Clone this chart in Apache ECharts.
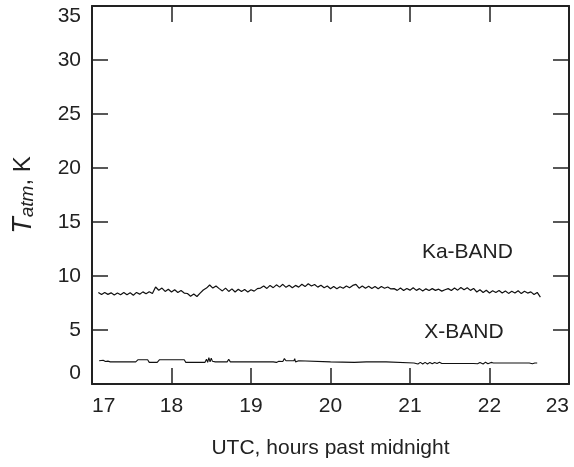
<!DOCTYPE html>
<html>
<head>
<meta charset="utf-8">
<script src="https://cdn.jsdelivr.net/npm/echarts@6/dist/echarts.min.js"></script>
<style>
  html, body { margin: 0; padding: 0; background: #fff; }
  #main { width: 574px; height: 467px; }
</style>
</head>
<body>
<div id="main"></div>
<script>
// x axis ticks (hours UTC) and y axis ticks (K)
var hourTicks = [17, 18, 19, 20, 21, 22, 23];
var tempTicks = [0, 5, 10, 15, 20, 25, 30, 35];

// Ka-band: sampled every 0.04 h starting at 17.08
var kaStart = 17.08, kaStep = 0.04;
var kaValues = [
  8.48, 8.28, 8.47, 8.3, 8.44, 8.25, 8.42, 8.27, 8.48, 8.27, 8.45, 8.22, 8.48, 8.32, 8.53, 8.35, 8.55, 8.38,
  8.98, 8.68, 8.88, 8.57, 8.78, 8.52, 8.73, 8.47, 8.65, 8.42,
  8.38, 8.12, 8.33, 8.1, 8.42,
  8.7, 8.88, 9.17, 8.88, 9.08,
  8.83, 8.62, 8.88, 8.57, 8.81, 8.52, 8.78, 8.57, 8.75, 8.52, 8.73, 8.6, 8.83,
  8.88, 9.08, 8.85, 9.13, 8.92, 9.18, 8.97, 9.23, 8.95, 9.15, 8.92, 9.13, 8.97, 9.23, 9.02, 9.28, 9.07, 9.21, 8.97, 9.15, 8.92, 9.08,
  8.82, 9.03, 8.82, 9.01, 8.87, 9.08, 8.92, 9.13, 9.22,
  8.87, 9.08, 8.87, 9.05, 8.85, 9.03, 8.82, 9.03, 8.87, 8.98, 8.8,
  8.83, 8.67, 8.88, 8.65, 8.85, 8.69, 8.91, 8.67, 8.83, 8.62, 8.81, 8.65, 8.83, 8.67, 8.78, 8.6, 8.73,
  8.83, 8.65, 8.88, 8.69, 8.93, 8.72, 8.91, 8.67, 8.85,
  8.52, 8.73, 8.47, 8.68, 8.42, 8.63, 8.47, 8.65, 8.42, 8.61, 8.39, 8.58, 8.42, 8.63, 8.37, 8.58, 8.42, 8.53,
  8.28, 8.48, 8.05
];

// X-band: flat line with a few blips
var xbTimes = [
  17.09, 17.14, 17.17, 17.2, 17.23, 17.55, 17.58, 17.7, 17.72, 17.82, 17.85, 18.16, 18.18, 18.42,
  18.44, 18.455, 18.47, 18.485, 18.5, 18.515, 18.53, 18.55, 18.7, 18.72, 18.74, 19.28, 19.3, 19.32,
  19.35, 19.4, 19.42, 19.44, 19.54, 19.55, 19.56, 19.6, 20.0, 20.3, 20.45, 20.7, 20.72, 21.05,
  21.1, 21.13, 21.16, 21.19, 21.22, 21.25, 21.28, 21.31, 21.34, 21.37, 21.4, 21.45, 21.8, 21.82,
  21.85, 21.88, 21.92, 21.95, 21.98, 22.02, 22.05, 22.5, 22.54, 22.57, 22.6
];
var xbValues = [
  2.15, 2.2, 2.08, 2.12, 2.05, 2.05, 2.25, 2.25, 2.0, 2.0, 2.25, 2.25, 2.0, 2.0,
  2.3, 2.0, 2.45, 2.05, 2.4, 2.1, 2.15, 2.05, 2.05, 2.3, 2.05, 2.05, 2.2, 2.0,
  2.1, 2.08, 2.35, 2.15, 2.15, 2.35, 2.05, 2.15, 2.05, 2.0, 2.05, 2.05, 1.95, 1.95,
  1.85, 2.0, 1.85, 2.0, 1.85, 2.0, 1.88, 2.0, 1.9, 2.02, 1.9, 1.9, 1.9, 2.0,
  1.88, 2.0, 1.85, 2.02, 1.88, 2.0, 1.95, 1.95, 1.88, 1.95, 1.95
];

// band labels, placed in data units
var bandNames = ['Ka-BAND', 'X-BAND'];
var bandLabelAt = [[21.15, 12.2], [21.18, 4.75]];

var kaData = kaValues.map(function (v, i) { return [kaStart + i * kaStep, v]; });
var xbData = xbTimes.map(function (t, i) { return [t, xbValues[i]]; });

var ink = '#222';
var font = 'Liberation Sans, Arial, Helvetica, sans-serif';

var chart = echarts.init(document.getElementById('main'));

function frameAxis(pos, isX, main) {
  var ax = {
    type: 'value',
    position: pos,
    min: isX ? hourTicks[0] : tempTicks[0],
    max: isX ? hourTicks[hourTicks.length - 1] : tempTicks[tempTicks.length - 1],
    interval: isX ? 1 : 5,
    axisLine: { show: true, onZero: false, lineStyle: { color: ink, width: 2 } },
    axisTick: { show: true, inside: true, length: 16, lineStyle: { color: ink, width: 1.5 } },
    splitLine: { show: false },
    axisLabel: { show: false }
  };
  if (main) {
    ax.axisLabel = {
      show: true, color: ink, fontSize: 21, fontFamily: font,
      margin: isX ? 12 : 11
    };
    if (isX) {
      ax.axisLabel.alignMinLabel = 'left';
      ax.axisLabel.alignMaxLabel = 'right';
    } else {
      ax.axisLabel.verticalAlignMinLabel = 'bottom';
      ax.axisLabel.verticalAlignMaxLabel = 'top';
    }
  }
  return ax;
}

var xMain = frameAxis('bottom', true, true);
xMain.name = 'UTC, hours past midnight';
xMain.nameLocation = 'middle';
xMain.nameGap = 54;
xMain.nameTextStyle = { color: ink, fontSize: 21, fontFamily: font };

var yMain = frameAxis('left', false, true);
yMain.name = '{t|T}{s|atm}{n|, K}';
yMain.nameLocation = 'middle';
yMain.nameGap = 55;
yMain.nameTextStyle = {
  color: ink, fontFamily: font,
  rich: {
    t: { fontSize: 27, fontStyle: 'italic', fontFamily: font, color: ink },
    s: { fontSize: 19, fontStyle: 'italic', fontFamily: font, color: ink, verticalAlign: 'bottom', padding: [9, 0, 0, 0] },
    n: { fontSize: 24, fontFamily: font, color: ink }
  }
};

var option = {
  animation: false,
  backgroundColor: '#fff',
  grid: { left: 92, right: 5, top: 6, bottom: 83, outerBoundsMode: 'none' },
  xAxis: [xMain, frameAxis('top', true, false)],
  yAxis: [yMain, frameAxis('right', false, false)],
  series: [
    {
      name: 'Ka-BAND', type: 'line', data: kaData, showSymbol: false,
      lineStyle: { color: '#111', width: 1.2 }
    },
    {
      name: 'X-BAND', type: 'line', data: xbData, showSymbol: false,
      lineStyle: { color: '#111', width: 1.1 }
    }
  ]
};
chart.setOption(option);

// band labels through the grid's coordinate system
chart.setOption({
  graphic: bandNames.map(function (name, i) {
    var p = chart.convertToPixel({ gridIndex: 0 }, bandLabelAt[i]);
    return {
      type: 'text', x: p[0], y: p[1],
      style: { text: name, fill: ink, fontSize: 21, fontFamily: font, verticalAlign: 'middle', align: 'left' }
    };
  })
});
</script>
</body>
</html>
